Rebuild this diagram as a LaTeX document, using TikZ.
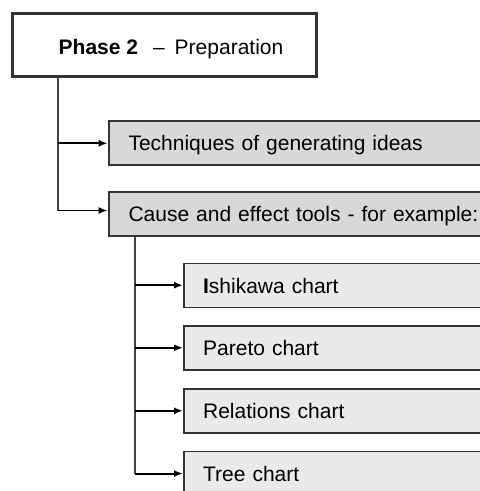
\documentclass[tikz,border=0pt]{standalone}
\usepackage{fontspec}
\setmainfont{Liberation Sans}
\usetikzlibrary{arrows.meta,calc}
\definecolor{boxgray}{HTML}{D8D8D8}
\definecolor{subgray}{HTML}{EAEAEA}
\definecolor{edge}{HTML}{333333}
\definecolor{vgray}{HTML}{444444}
\begin{document}
\begin{tikzpicture}[x=1pt,y=-1pt,
  font=\fontsize{21}{25}\selectfont,
  phasebox/.style={draw=edge, line width=3pt, fill=white, minimum width=304pt,
    minimum height=62.4pt, inner sep=0pt, text height=20pt, text depth=1pt},
  mainbox/.style={draw=edge, line width=2pt, fill=boxgray, anchor=north west,
    minimum width=420pt, minimum height=44pt, inner xsep=19.8pt, inner ysep=0pt,
    text width=380.4pt, align=left, text height=16pt, text depth=1pt},
  subbox/.style={draw=edge, line width=1.5pt, fill=subgray, anchor=north west,
    minimum width=400pt, minimum height=44pt, inner xsep=19.4pt, inner ysep=0pt,
    text width=361.2pt, align=left, text height=16.5pt, text depth=1pt},
  vline/.style={line width=1.4pt, vgray},
  arr/.style={line width=1.9pt, black, -{Latex[length=9pt,width=7pt]}}]
\useasboundingbox (0,0) rectangle (480,491);
\clip (0,0) rectangle (480,491);
\node[phasebox] (phase) at (164.5,45)
  {\hspace*{13pt}\textbf{Phase 2}\hspace{15pt}\textendash\hspace{10pt}Preparation};
\node[mainbox] (tech) at (107.7,120.3) {Techniques of generating ideas};
\node[mainbox] (cause) at (107.7,190.5) {Cause and effect tools - for example:};
\node[subbox] (ishi) at (183,262.5) {\textbf{I}shikawa chart};
\node[subbox] (pareto) at (183,325) {Pareto chart};
\node[subbox] (rel) at (183,388) {Relations chart};
\node[subbox] (tree) at (183,450.8) {Tree chart};
\coordinate (v1) at ($(phase.south west)+(47,0)$);
\coordinate (v2) at ($(cause.south west)+(27.3,0)$);
\coordinate (c1) at ($(cause.west)+(0,-3)$);
\draw[vline] (v1) -- (v1 |- c1);
\draw[arr] (v1 |- tech.west) -- (tech.west);
\draw[arr] (v1 |- c1) -- (c1);
\draw[vline] (v2) -- (v2 |- tree.west);
\foreach \n in {ishi,pareto,rel,tree}
  \draw[arr] (v2 |- \n.west) -- (\n.west);
\end{tikzpicture}
\end{document}
